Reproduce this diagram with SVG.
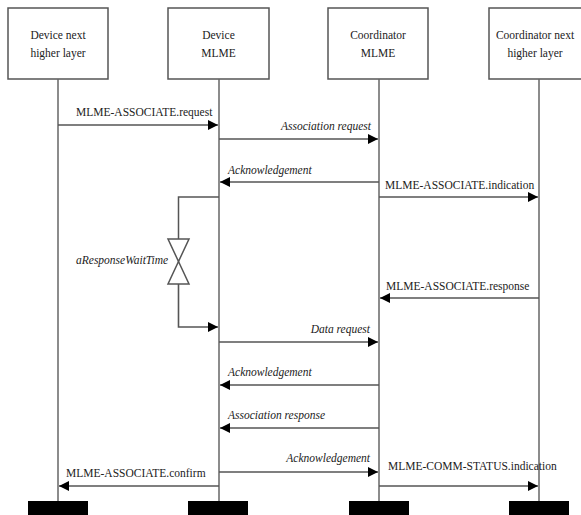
<svg xmlns="http://www.w3.org/2000/svg" width="581" height="515" viewBox="0 0 581 515" font-family="'Liberation Serif', 'Times New Roman', serif">
<style>
.box{fill:#fff;stroke:#555;stroke-width:1.5}
.life{stroke:#666;stroke-width:1.5;fill:none}
.msg{stroke:#555;stroke-width:1.6;fill:none;marker-end:url(#ah)}
.ln{stroke:#555;stroke-width:1.5;fill:none}
.bar{fill:#000}
text{font-family:'Liberation Serif','Times New Roman',serif;font-size:11.5px;fill:#222}
.c{text-anchor:middle}
.i{font-style:italic}
.e{text-anchor:end}
</style>
<defs>
<marker id="ah" viewBox="0 0 10 10" refX="10" refY="5" markerWidth="10" markerHeight="10" markerUnits="userSpaceOnUse" orient="auto">
<path d="M0,0 L10,5 L0,10 Z" fill="#000"/>
</marker>
</defs>
<rect width="581" height="515" fill="#fff"/>

<g id="node-device-nhl">
<rect class="box" x="8" y="8" width="100" height="71"/>
<text class="c" x="58" y="39">Device next</text>
<text class="c" x="58" y="57">higher layer</text>
<line class="life" x1="58" y1="79" x2="58" y2="501"/>
<rect class="bar" x="28" y="501" width="60" height="14"/>
</g>
<g id="node-device-mlme">
<rect class="box" x="168" y="8" width="101" height="71"/>
<text class="c" x="218.5" y="39">Device</text>
<text class="c" x="218.5" y="57">MLME</text>
<line class="life" x1="219" y1="79" x2="219" y2="501"/>
<rect class="bar" x="188" y="501" width="60" height="14"/>
</g>
<g id="node-coord-mlme">
<rect class="box" x="328" y="8" width="100" height="71"/>
<text class="c" x="378" y="39">Coordinator</text>
<text class="c" x="378" y="57">MLME</text>
<line class="life" x1="379" y1="79" x2="379" y2="501"/>
<rect class="bar" x="349" y="501" width="60" height="14"/>
</g>
<g id="node-coord-nhl">
<rect class="box" x="489" y="8" width="100" height="71"/>
<text class="c" x="535" y="39">Coordinator next</text>
<text class="c" x="535" y="57">higher layer</text>
<line class="life" x1="539" y1="79" x2="539" y2="501"/>
<rect class="bar" x="509" y="501" width="60" height="14"/>
</g>

<g id="timer">
<polyline class="ln" points="219,197 178.5,197 178.5,239"/>
<polyline class="msg" points="178.5,284 178.5,327 218,327"/>
<polygon class="ln" fill="#fff" points="168,239 189,239 178.5,261.5"/>
<polygon class="ln" fill="#fff" points="168,284 189,284 178.5,261.5"/>
<text class="i" x="76" y="264">aResponseWaitTime</text>
</g>

<g id="connectors">
<line class="msg" x1="58" y1="125" x2="218" y2="125"/>
<line class="msg" x1="219" y1="139" x2="378" y2="139"/>
<line class="msg" x1="379" y1="182" x2="220" y2="182"/>
<line class="msg" x1="379" y1="197" x2="538" y2="197"/>
<line class="msg" x1="539" y1="298" x2="380" y2="298"/>
<line class="msg" x1="219" y1="342" x2="378" y2="342"/>
<line class="msg" x1="379" y1="385" x2="220" y2="385"/>
<line class="msg" x1="379" y1="428" x2="220" y2="428"/>
<line class="msg" x1="219" y1="472" x2="378" y2="472"/>
<line class="msg" x1="219" y1="486" x2="59" y2="486"/>
<line class="msg" x1="379" y1="486" x2="538" y2="486"/>
</g>

<g id="labels">
<text x="76" y="116">MLME-ASSOCIATE.request</text>
<text class="i e" x="371" y="130">Association request</text>
<text class="i" x="228" y="174">Acknowledgement</text>
<text x="385" y="189">MLME-ASSOCIATE.indication</text>
<text x="386" y="290">MLME-ASSOCIATE.response</text>
<text class="i e" x="370" y="333">Data request</text>
<text class="i" x="228" y="376">Acknowledgement</text>
<text class="i" x="228" y="419">Association response</text>
<text class="i e" x="370" y="462">Acknowledgement</text>
<text x="66" y="477">MLME-ASSOCIATE.confirm</text>
<text x="388" y="470">MLME-COMM-STATUS.indication</text>
</g>
</svg>
